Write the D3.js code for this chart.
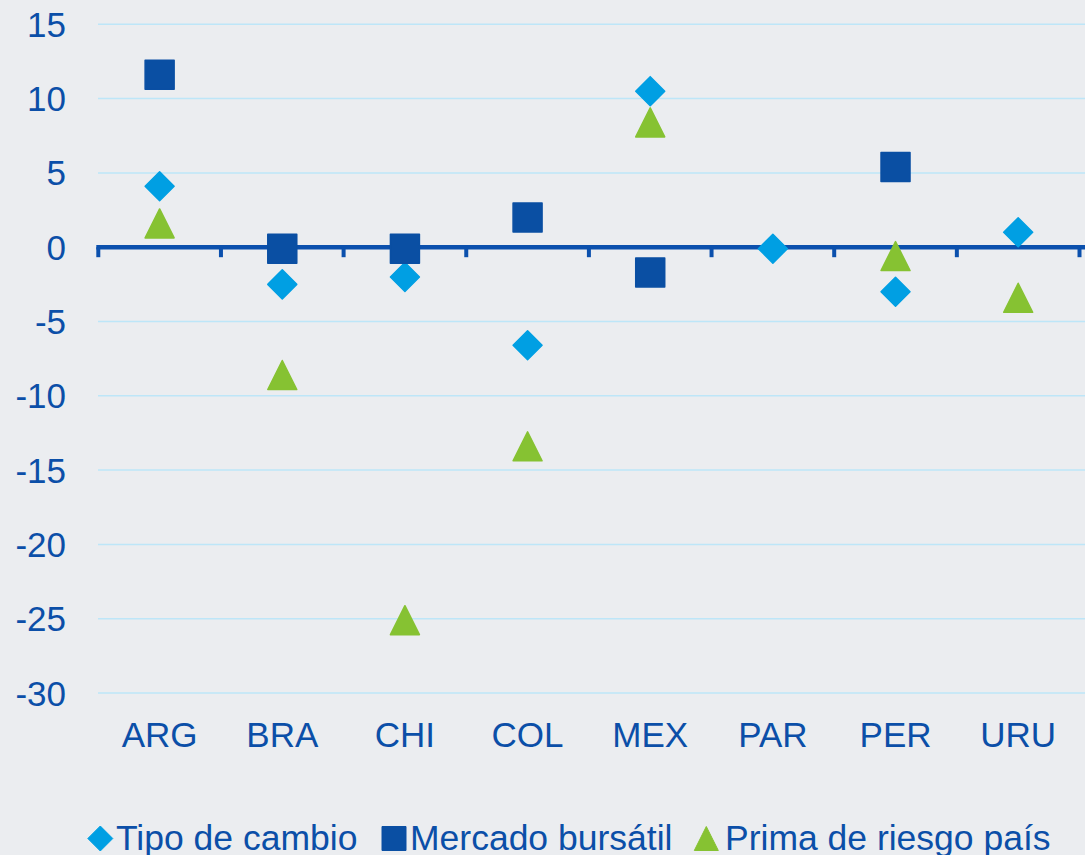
<!DOCTYPE html>
<html><head><meta charset="utf-8">
<script src="https://cdn.jsdelivr.net/npm/d3@7"></script>
<style>
html,body{margin:0;padding:0;background:#ebedf0;}
svg{display:block;}
text{font-family:"Liberation Sans",Arial,sans-serif;fill:#0b4fa8;}
</style></head><body>
<svg id="c" width="1085" height="855"></svg>
<script>
const categories = ["ARG","BRA","CHI","COL","MEX","PAR","PER","URU"];
const tipoDeCambio = [4.1, -2.5, -2.0, -6.6, 10.5, -0.1, -3.0, 1.0];
const mercadoBursatil = [11.6, -0.1, -0.1, 2.0, -1.7, null, 5.4, null];
const primaRiesgo = [1.6, -8.6, -25.1, -13.4, 8.4, null, -0.6, -3.4];
const yTicks = [15,10,5,0,-5,-10,-15,-20,-25,-30];
const seriesNames = ["Tipo de cambio","Mercado bursátil","Prima de riesgo país"];

const svg = d3.select("#c");
const x = d3.scaleBand().domain(categories).range([98.3, 1079.5]);
const y = d3.scaleLinear().domain([-30, 15]).range([693, 24.3]);

const colDiamond = "#009fe3", colSquare = "#0a4fa3", colTri = "#86c232";

// gridlines
svg.append("g").selectAll("line").data(yTicks.filter(d => d !== 0)).join("line")
  .attr("x1", 98).attr("x2", 1085)
  .attr("y1", d => y(d)).attr("y2", d => y(d))
  .attr("stroke", "#bde6f8").attr("stroke-width", 1.5);

// y axis labels
svg.append("g").selectAll("text").data(yTicks).join("text")
  .attr("x", 66).attr("y", d => y(d) + 12.5)
  .attr("text-anchor", "end").attr("font-size", 35)
  .text(d => d);

// zero axis line with ticks
const ax = svg.append("g");
ax.append("line").attr("x1", 96.3).attr("x2", 1085)
  .attr("y1", y(0)).attr("y2", y(0))
  .attr("stroke", "#0b50ad").attr("stroke-width", 4.5);
const tickPos = categories.map(c => x(c)).concat([x.range()[1]]);
ax.selectAll("line.tk").data(tickPos).join("line").attr("class","tk")
  .attr("x1", d => d).attr("x2", d => d)
  .attr("y1", y(0)).attr("y2", y(0) + 10)
  .attr("stroke", "#0b50ad").attr("stroke-width", 4);

// category labels
svg.append("g").selectAll("text").data(categories).join("text")
  .attr("x", d => x(d) + x.bandwidth()/2).attr("y", 746.7)
  .attr("text-anchor", "middle").attr("font-size", 35)
  .text(d => d);

const half = 14.5;
const diamondPath = s => `M0,${-s}L${s},0L0,${s}L${-s},0Z`;
const squarePath = s => `M${-s},${-s}H${s}V${s}H${-s}Z`;
const triPath = s => `M0,${-s}L${s},${s}L${-s},${s}Z`;

function drawSeries(vals, path, color) {
  const data = categories.map((c, i) => ({c, v: vals[i]})).filter(d => d.v !== null);
  svg.append("g").selectAll("path").data(data).join("path")
    .attr("d", path(half))
    .attr("transform", d => `translate(${x(d.c) + x.bandwidth()/2},${y(d.v)})`)
    .attr("fill", color).attr("stroke", color).attr("stroke-width", 1.5)
    .attr("stroke-linejoin", "round");
}
drawSeries(tipoDeCambio, diamondPath, colDiamond);
drawSeries(mercadoBursatil, squarePath, colSquare);
drawSeries(primaRiesgo, triPath, colTri);

// legend
const legend = [
  {name: seriesNames[0], mx: 100.3, tx: 116, path: diamondPath, s: 12.5, color: colDiamond},
  {name: seriesNames[1], mx: 394, tx: 410, path: squarePath, s: 12, color: colSquare},
  {name: seriesNames[2], mx: 706.3, tx: 725, path: triPath, s: 12, color: colTri}
];
const lg = svg.append("g");
legend.forEach(l => {
  lg.append("path").attr("d", l.path(l.s))
    .attr("transform", `translate(${l.mx},838.5)`)
    .attr("fill", l.color).attr("stroke", l.color).attr("stroke-width", 1)
    .attr("stroke-linejoin", "round");
  lg.append("text").attr("x", l.tx).attr("y", 849.5)
    .attr("font-size", 35.5)
    .text(l.name);
});
</script>
</body></html>
